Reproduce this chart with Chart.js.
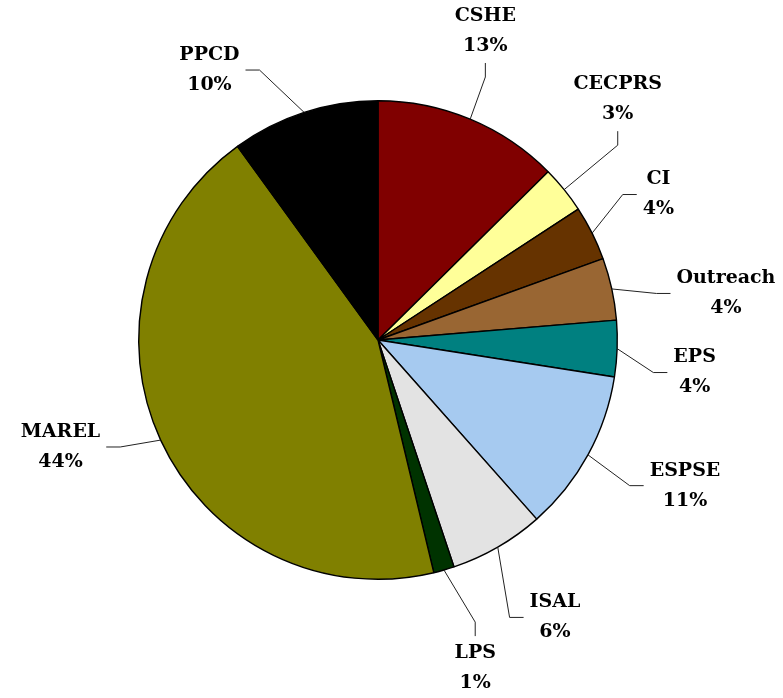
<!DOCTYPE html>
<html>
<head>
<meta charset="utf-8">
<script src="https://cdn.jsdelivr.net/npm/chart.js@4"></script>
<style>
  html, body { margin: 0; padding: 0; background: #fff; }
  #wrap { width: 783px; height: 698px; }
</style>
</head>
<body>
<div id="wrap"><canvas id="pie_chart" width="783" height="698"></canvas></div>
<script>
const units = ["CSHE", "CECPRS", "CI", "Outreach", "EPS", "ESPSE", "ISAL", "LPS", "MAREL", "PPCD"];
const shares = [12.6, 3.2, 3.7, 4.2, 3.8, 11.0, 6.4, 1.4, 43.8, 10.0];
const colours = ["#800000", "#FFFF99", "#663300", "#996633", "#008080",
                 "#A6CAF0", "#E3E3E3", "#003300", "#808000", "#000000"];

// label placement: angle nudge (deg) and distance (x radius) for each slice
const label_nudge = [-3.5, -6.2, -0.9, 4.7, 3.8, -3.3, -2.5, -0.5, 6.1, -14];
const label_dist = [1.367, 1.42, 1.32, 1.467, 1.33, 1.42, 1.375, 1.43, 1.40, 1.33];

const label_font = "bold 19px 'DejaVu Serif'";

const total = shares.reduce((a, b) => a + b, 0);

const outside_labels = {
  id: "outside_labels",
  afterDatasetsDraw(chart) {
    const ctx = chart.ctx;
    const arcs = chart.getDatasetMeta(0).data;
    ctx.save();
    ctx.font = label_font;
    ctx.textAlign = "center";
    ctx.textBaseline = "middle";
    arcs.forEach((arc, i) => {
      const p = arc.getProps(["x", "y", "startAngle", "endAngle", "outerRadius"], true);
      const mid = (p.startAngle + p.endAngle) / 2;
      const a = mid + label_nudge[i] * Math.PI / 180;
      const cx = p.x + p.outerRadius * label_dist[i] * Math.cos(a);
      const cy = p.y + p.outerRadius * label_dist[i] * Math.sin(a);
      const ex = p.x + p.outerRadius * Math.cos(mid);
      const ey = p.y + p.outerRadius * Math.sin(mid);

      const name = units[i];
      const pct = Math.round(shares[i] / total * 100) + "%";
      const w = Math.max(ctx.measureText(name).width, ctx.measureText(pct).width) + 8;
      const h = 60;

      // leader line with a short elbow next to the label
      let ax, ay, bx, by;
      if (Math.abs(ex - cx) < w / 2 + 15) {
        ax = cx;
        ay = ey > cy ? cy + h / 2 + 2 : cy - h / 2 - 2;
        bx = cx;
        by = ey > cy ? ay + 14 : ay - 14;
      } else {
        ax = ex > cx ? cx + w / 2 + 2 : cx - w / 2 - 2;
        ay = cy;
        bx = ex > cx ? ax + 14 : ax - 14;
        by = cy;
      }
      ctx.strokeStyle = "#222";
      ctx.lineWidth = 1;
      ctx.beginPath();
      ctx.moveTo(ex, ey);
      ctx.lineTo(bx, by);
      ctx.lineTo(ax, ay);
      ctx.stroke();

      ctx.fillStyle = "#000";
      ctx.fillText(name, cx, cy - 15);
      ctx.fillText(pct, cx, cy + 15);
    });
    ctx.restore();
  }
};

const pie_ctx = document.getElementById("pie_chart");

const pie_chart = new Chart(pie_ctx, {
  type: "pie",
  data: {
    labels: units,
    datasets: [{
      data: shares,
      backgroundColor: colours,
      borderColor: "#000",
      borderWidth: 1.4,
    }],
  },
  options: {
    responsive: false,
    animation: false,
    layout: {
      padding: { left: 138, right: 165, top: 100, bottom: 118 }
    },
    plugins: {
      legend: { display: false },
      tooltip: { enabled: false },
    },
  },
  plugins: [outside_labels],
});
</script>
</body>
</html>
